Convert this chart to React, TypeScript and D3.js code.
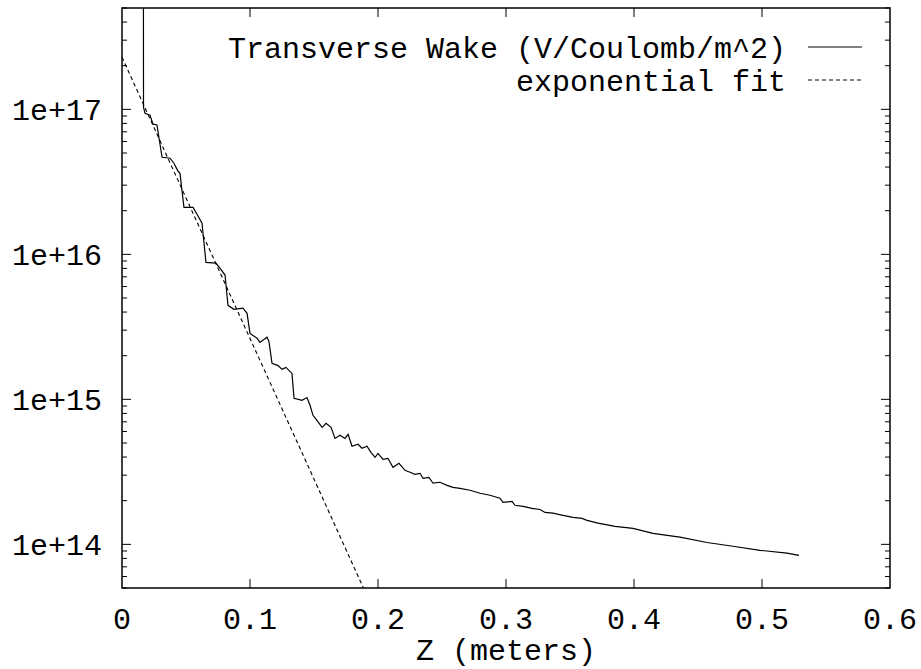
import React from "react";
import * as d3 from "d3";

// Transverse wake data (z in meters, wake in V/Coulomb/m^2)
const wakeZ = [
  0.0166, 0.0168, 0.018, 0.0219, 0.0242, 0.0273, 0.0313, 0.0375, 0.0406, 0.0438, 0.0453,
  0.0484, 0.0555, 0.0586, 0.0625, 0.0656, 0.0734, 0.0766, 0.0805, 0.0828, 0.0875,
  0.0945, 0.0977, 0.1, 0.1055, 0.1078, 0.1133, 0.1148, 0.1172, 0.1219, 0.125,
  0.1281, 0.1328, 0.1344, 0.1406, 0.1445, 0.1469, 0.1492, 0.1523, 0.1563, 0.1594,
  0.1633, 0.1664, 0.1703, 0.1742, 0.1766, 0.1797, 0.1844, 0.1875, 0.1914, 0.1945,
  0.1977, 0.2, 0.2039, 0.2078, 0.2117, 0.2164, 0.2211, 0.225, 0.2289, 0.2328,
  0.2352, 0.2398, 0.243, 0.2484, 0.2539, 0.2586, 0.2641, 0.2719, 0.2797, 0.2875,
  0.2953, 0.2977, 0.3047, 0.307, 0.3133, 0.3203, 0.3266, 0.3305, 0.3367, 0.3445,
  0.3523, 0.3594, 0.3633, 0.3719, 0.3852, 0.3992, 0.4148, 0.4359, 0.457, 0.4773,
  0.4984, 0.5195, 0.5289,
];
const wakeV = [
  5e19, 1.03e17, 9.4e16, 9.1e16, 7.9e16, 7.8e16, 4.67e16, 4.6e16, 4.25e16, 3.74e16, 3.62e16,
  2.11e16, 2.11e16, 1.89e16, 1.64e16, 8.8e15, 8.7e15, 8.0e15, 7.2e15, 4.45e15, 4.18e15,
  4.25e15, 3.92e15, 2.85e15, 2.64e15, 2.47e15, 2.68e15, 2.51e15, 1.77e15, 1.71e15, 1.61e15,
  1.66e15, 1.51e15, 1.016e15, 9.85e14, 1.03e15, 9.1e14, 7.76e14, 7.16e14, 6.41e14, 6.83e14,
  6.41e14, 5.38e14, 5.65e14, 5.38e14, 5.74e14, 4.75e14, 4.9e14, 4.6e14, 4.75e14, 4.31e14,
  3.98e14, 4.24e14, 3.86e14, 3.92e14, 3.4e14, 3.62e14, 3.24e14, 3.14e14, 3.04e14, 3.09e14,
  2.85e14, 2.9e14, 2.64e14, 2.68e14, 2.55e14, 2.47e14, 2.43e14, 2.36e14, 2.25e14, 2.18e14,
  2.08e14, 1.95e14, 1.98e14, 1.86e14, 1.83e14, 1.77e14, 1.74e14, 1.66e14, 1.64e14, 1.585e14,
  1.535e14, 1.51e14, 1.465e14, 1.4e14, 1.33e14, 1.29e14, 1.19e14, 1.12e14, 1.03e14, 9.7e13,
  9.1e13, 8.7e13, 8.4e13,
];

// Exponential fit line
const fitZ = [0, 0.05, 0.1, 0.15, 0.2];
const fitV = [2.29e17, 2.45e16, 2.63e15, 2.82e14, 3.0e13];

const xTicks = [0, 0.1, 0.2, 0.3, 0.4, 0.5, 0.6];
const xTickLabels = ["0", "0.1", "0.2", "0.3", "0.4", "0.5", "0.6"];
const yTicks = [1e14, 1e15, 1e16, 1e17];
const yTickLabels = ["1e+14", "1e+15", "1e+16", "1e+17"];
const seriesNames = ["Transverse Wake (V/Coulomb/m^2)", "exponential fit"];
const xLabel = "Z (meters)";

export default function App() {
  const W = 921, H = 669;
  const L = 122, R = 890, T = 8, B = 588;
  const x = d3.scaleLinear().domain([0, 0.6]).range([L, R]);
  const y = d3.scaleLog().domain([5e13, 5e17]).range([B, T]);
  const font = "'Liberation Mono', 'DejaVu Sans Mono', monospace";
  const fs = 30;

  const wakeData = wakeZ.map((z, i) => [z, wakeV[i]] as [number, number]);
  const fitData = fitZ.map((z, i) => [z, fitV[i]] as [number, number]);
  const line = d3.line<[number, number]>().x((d) => x(d[0])).y((d) => y(d[1]));

  // minor ticks for log axis
  const minor: number[] = [];
  for (let e = 13; e <= 17; e++) {
    for (let m = 2; m <= 9; m++) {
      const v = m * Math.pow(10, e);
      if (v >= 5e13 && v <= 5e17) minor.push(v);
    }
  }

  const majLen = 9, minLen = 5;
  return (
    <svg width={W} height={H} style={{ position: "absolute", left: 0, top: 0, background: "#fff" }}>
      <defs>
        <clipPath id="plot">
          <rect x={L} y={T} width={R - L} height={B - T} />
        </clipPath>
      </defs>
      <rect x={0} y={0} width={W} height={H} fill="#fff" />
      <g clipPath="url(#plot)">
        <path d={line(fitData) || ""} fill="none" stroke="#000" strokeWidth={1.1} strokeDasharray="4,3" />
        <path d={line(wakeData) || ""} fill="none" stroke="#000" strokeWidth={1.2} />
      </g>
      {/* x ticks */}
      {xTicks.map((t, i) => (
        <g key={"x" + i}>
          {i > 0 && i < xTicks.length - 1 && (
            <>
              <line x1={x(t)} x2={x(t)} y1={B} y2={B - majLen} stroke="#000" strokeWidth={1} />
              <line x1={x(t)} x2={x(t)} y1={T} y2={T + majLen} stroke="#000" strokeWidth={1} />
            </>
          )}
          <text x={x(t)} y={629} textAnchor="middle" fontFamily={font} fontSize={fs} fill="#000">
            {xTickLabels[i]}
          </text>
        </g>
      ))}
      {/* y ticks */}
      {yTicks.map((t, i) => (
        <g key={"y" + i}>
          <line x1={L} x2={L + majLen} y1={y(t)} y2={y(t)} stroke="#000" strokeWidth={1} />
          <line x1={R} x2={R - majLen} y1={y(t)} y2={y(t)} stroke="#000" strokeWidth={1} />
          <text x={102} y={y(t)} dy="0.35em" textAnchor="end" fontFamily={font} fontSize={fs} fill="#000">
            {yTickLabels[i]}
          </text>
        </g>
      ))}
      {minor.map((t, i) => (
        <g key={"m" + i}>
          <line x1={L} x2={L + minLen} y1={y(t)} y2={y(t)} stroke="#000" strokeWidth={1} />
          <line x1={R} x2={R - minLen} y1={y(t)} y2={y(t)} stroke="#000" strokeWidth={1} />
        </g>
      ))}
      <rect x={L} y={T} width={R - L} height={B - T} fill="none" stroke="#000" strokeWidth={1.5} />
      <text x={(L + R) / 2} y={660} textAnchor="middle" fontFamily={font} fontSize={fs} fill="#000">
        {xLabel}
      </text>
      {/* legend */}
      <text x={786} y={47} dy="0.35em" textAnchor="end" fontFamily={font} fontSize={fs} fill="#000">
        {seriesNames[0]}
      </text>
      <line x1={808} x2={862} y1={47} y2={47} stroke="#000" strokeWidth={1.2} />
      <text x={786} y={80} dy="0.35em" textAnchor="end" fontFamily={font} fontSize={fs} fill="#000">
        {seriesNames[1]}
      </text>
      <line x1={808} x2={862} y1={80} y2={80} stroke="#000" strokeWidth={1.1} strokeDasharray="4,3" />
    </svg>
  );
}
